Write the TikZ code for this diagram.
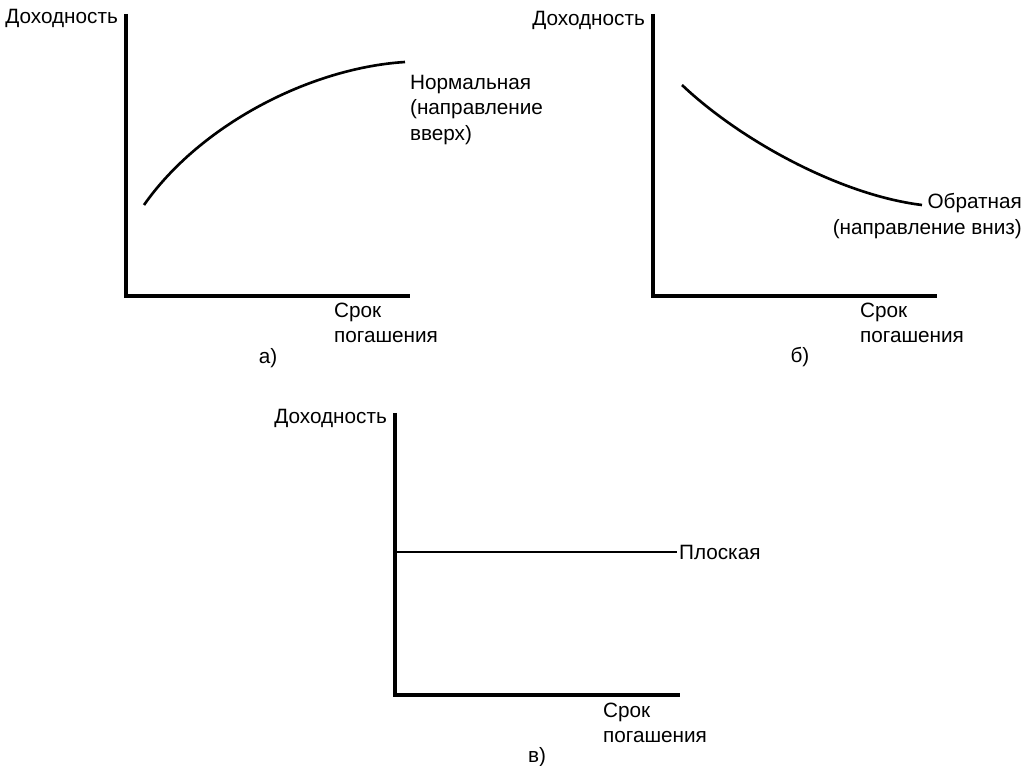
\documentclass[tikz,border=0pt]{standalone}
\usepackage{fontspec}
\setmainfont{Liberation Sans}
\usepackage{tikz}

\begin{document}
\begin{tikzpicture}[
    x=0.02cm, y=-0.02cm,
    axis/.style={line width=2.2pt},
    curve/.style={line width=1.5pt},
    label/.style={font=\fontsize{11.8pt}{14.5pt}\selectfont, inner sep=1pt},
    caption/.style={font=\fontsize{11.8pt}{14.5pt}\selectfont, inner sep=1pt}
]
\useasboundingbox (0,0) rectangle (1032,766);

% a) normal curve
\coordinate (originA) at (126,296);
\coordinate (topA) at (126,14);
\coordinate (rightA) at (410,296);
\coordinate (startA) at (144,205);
\coordinate (endA) at (405,62);
\draw[axis] (topA) -- (originA) -- (rightA);
\draw[curve] (startA) .. controls (200,125) and (310,68) .. (endA);
\node[label, anchor=east] (yA) at (120,18) {Доходность};
\node[label, anchor=west, align=left] (nameA) at (408,110) {Нормальная\\(направление\\вверх)};
\node[label, anchor=west, align=left] (xA) at (332,323) {Срок\\погашения};
\node[caption] (capA) at (268,358) {а)};

% b) inverted curve
\coordinate (originB) at (653,296);
\coordinate (topB) at (653,14);
\coordinate (rightB) at (937,296);
\coordinate (startB) at (682,85);
\coordinate (endB) at (922,205);
\draw[axis] (topB) -- (originB) -- (rightB);
\draw[curve] (startB) .. controls (740,140) and (840,195) .. (endB);
\node[label, anchor=east] (yB) at (647,20) {Доходность};
\node[label, anchor=east, align=right] (nameB) at (1024,216) {Обратная\\(направление вниз)};
\node[label, anchor=west, align=left] (xB) at (858,323) {Срок\\погашения};
\node[caption] (capB) at (800,357) {б)};

% c) flat curve
\coordinate (originC) at (395,695);
\coordinate (topC) at (395,413);
\coordinate (rightC) at (680,695);
\coordinate (startC) at (395,552);
\node[label, anchor=west] (nameC) at (677,552) {Плоская};
\draw[axis] (topC) -- (originC) -- (rightC);
\draw[curve] (startC) -- (startC -| nameC.west);
\node[label, anchor=east] (yC) at (389,418) {Доходность};
\node[label, anchor=west, align=left] (xC) at (601,723) {Срок\\погашения};
\node[caption] (capC) at (537,757) {в)};

\end{tikzpicture}
\end{document}
